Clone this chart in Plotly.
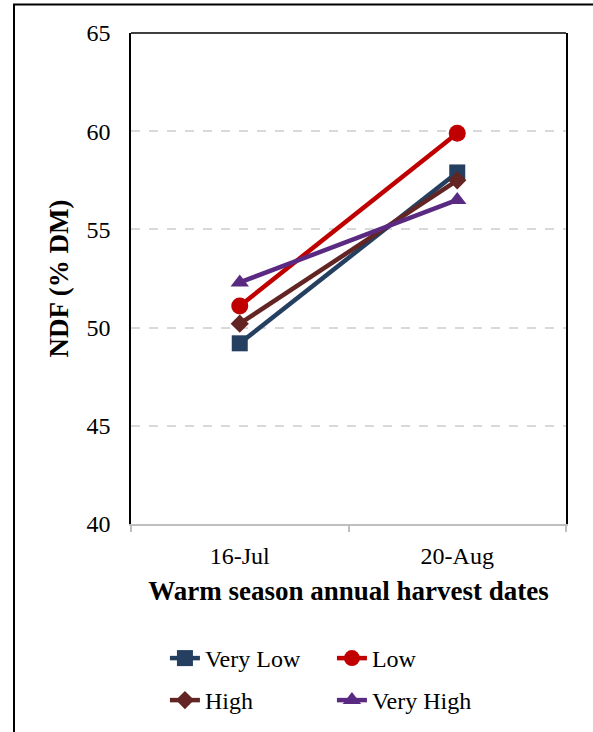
import plotly.graph_objects as go

dates = ["16-Jul", "20-Aug"]
series_names = ["Very Low", "Low", "High", "Very High"]
very_low = [49.2, 57.9]
low = [51.1, 59.9]
high = [50.2, 57.5]
very_high = [52.3, 56.5]
y_ticks = [40, 45, 50, 55, 60, 65]

colors = ["#243F60", "#C00000", "#632523", "#5A2A82"]
symbols = ["square", "circle", "diamond", "triangle-up"]
sizes = [16, 17, 14, 16]
legend_ids = ["legend", "legend", "legend2", "legend2"]
values = [very_low, low, high, very_high]

FONT = "Liberation Serif, Times New Roman, serif"

fig = go.Figure()
for name, vals, c, s, sz, lg in zip(series_names, values, colors, symbols, sizes, legend_ids):
    fig.add_trace(go.Scatter(
        x=dates, y=vals, name=name, mode="lines+markers",
        line=dict(color=c, width=4.5),
        marker=dict(symbol=s, size=sz, color=c),
        legend=lg,
    ))

leg_common = dict(
    orientation="h", xanchor="left", yanchor="middle",
    entrywidth=122, font=dict(size=24, family=FONT),
    bgcolor="rgba(0,0,0,0)",
)

fig.update_layout(
    width=593, height=732,
    margin=dict(l=131, r=27, t=33, b=208, autoexpand=False),
    paper_bgcolor="white", plot_bgcolor="white",
    font=dict(family=FONT, color="black", size=24),
    showlegend=True,
    legend=dict(x=0.078, y=(524 - 658.5) / 491, **leg_common),
    legend2=dict(x=0.078, y=(524 - 700.5) / 491, **leg_common),
    xaxis=dict(
        type="category", range=[-0.5, 1.5],
        showline=True, linecolor="#BFBFBF", linewidth=1.5,
        ticks="outside", tickson="boundaries", ticklen=6, tickcolor="#BFBFBF",
        tickwidth=1.5, showgrid=False, zeroline=False,
        tickfont=dict(size=24, family=FONT), ticklabelstandoff=9,
        title=dict(text="<b>Warm season annual harvest dates</b>", font=dict(size=27, family=FONT), standoff=14),
    ),
    yaxis=dict(
        range=[40, 65], tickvals=y_ticks,
        showline=True, linecolor="black", linewidth=1.5, mirror=True,
        showgrid=True, gridcolor="#D9D9D9", griddash="dash", gridwidth=1.5,
        zeroline=False, ticks="", tickfont=dict(size=24, family=FONT), ticklabelstandoff=14,
        title=dict(text="<b>NDF (% DM)</b>", font=dict(size=27, family=FONT), standoff=10),
    ),
    shapes=[
        dict(type="line", xref="paper", yref="paper", x0=0, x1=1, y0=1, y1=1,
             line=dict(color="black", width=1.5)),
        dict(type="rect", xref="paper", yref="paper",
             x0=(14 - 131) / 435, x1=1.2, y0=-0.5, y1=(524 - 4.5) / 491,
             line=dict(color="black", width=2), layer="below"),
    ],
)

fig.write_html("out.html", config={"displayModeBar": False},
               post_script="document.body.style.margin='0';")
